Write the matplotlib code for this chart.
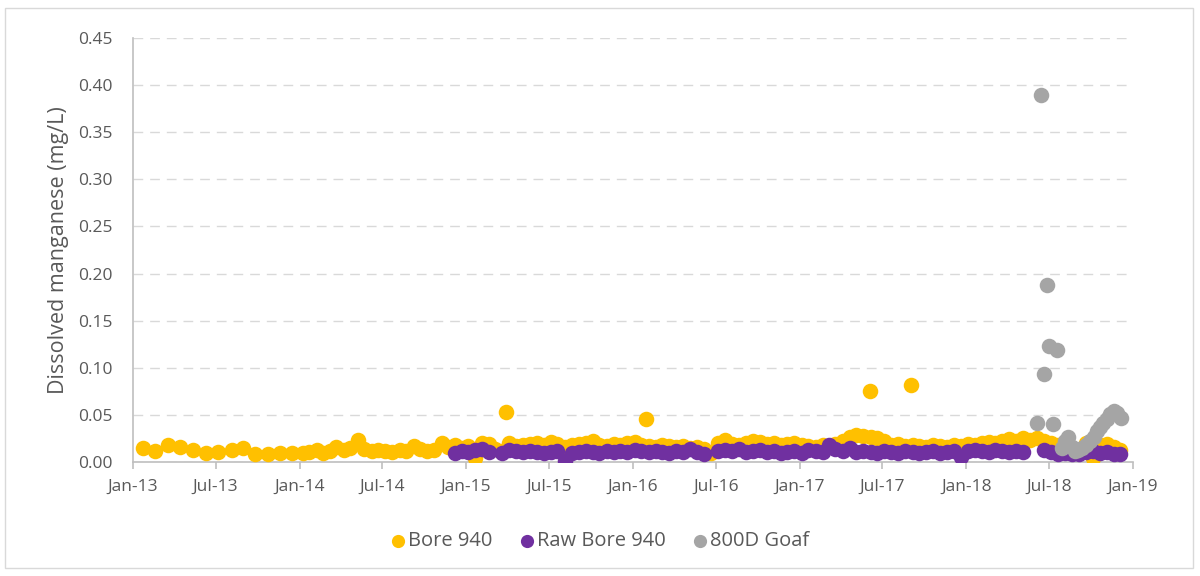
import numpy as np
import pandas as pd
import matplotlib
matplotlib.use("Agg")
import matplotlib.pyplot as plt
import matplotlib.dates as mdates
from matplotlib.patches import Rectangle

plt.rcParams['font.family'] = ['Open Sans', 'DejaVu Sans']

# ---------------- data ----------------
# Bore 940: early sampling (2013-2014)
bore_early_dates = [
    "2013-01-23", "2013-02-18", "2013-03-18", "2013-04-14", "2013-05-12", "2013-06-10",
    "2013-07-06", "2013-08-06", "2013-08-30", "2013-09-25", "2013-10-24", "2013-11-19",
    "2013-12-15",
    "2014-01-08", "2014-01-22", "2014-02-08", "2014-02-22", "2014-03-08", "2014-03-22",
    "2014-04-08", "2014-04-22", "2014-05-08", "2014-05-22", "2014-06-08", "2014-06-22",
    "2014-07-08", "2014-07-22", "2014-08-08", "2014-08-22", "2014-09-08", "2014-09-22",
    "2014-10-08", "2014-10-22", "2014-11-08", "2014-11-22",
]
bore_early_values = [
    0.015, 0.012, 0.018, 0.016, 0.013, 0.010, 0.011, 0.013, 0.015, 0.009, 0.008, 0.010,
    0.010,
    0.010, 0.011, 0.013, 0.010, 0.012, 0.016, 0.013, 0.015, 0.023, 0.014, 0.012, 0.013,
    0.012, 0.011, 0.013, 0.012, 0.017, 0.014, 0.012, 0.013, 0.020, 0.016,
]

# Common sampling dates from Dec-2014 (Bore 940 and Raw Bore 940)
dense_dates = [
    "2014-12-08", "2014-12-22",
    "2015-01-05", "2015-01-20", "2015-02-05", "2015-02-20", "2015-03-05", "2015-03-20",
    "2015-04-05", "2015-04-20", "2015-05-05", "2015-05-20", "2015-06-05", "2015-06-20",
    "2015-07-05", "2015-07-20", "2015-08-05", "2015-08-20", "2015-09-05", "2015-09-20",
    "2015-10-05", "2015-10-20", "2015-11-05", "2015-11-20", "2015-12-05", "2015-12-20",
    "2016-01-05", "2016-01-20", "2016-02-05", "2016-02-20", "2016-03-05", "2016-03-20",
    "2016-04-05", "2016-04-20", "2016-05-05", "2016-05-20", "2016-06-05", "2016-06-20",
    "2016-07-05", "2016-07-20", "2016-08-05", "2016-08-20", "2016-09-05", "2016-09-20",
    "2016-10-05", "2016-10-20", "2016-11-05", "2016-11-20", "2016-12-05", "2016-12-20",
    "2017-01-05", "2017-01-20", "2017-02-05", "2017-02-20", "2017-03-05", "2017-03-20",
    "2017-04-05", "2017-04-20", "2017-05-05", "2017-05-20", "2017-06-05", "2017-06-20",
    "2017-07-05", "2017-07-20", "2017-08-05", "2017-08-20", "2017-09-05", "2017-09-20",
    "2017-10-05", "2017-10-20", "2017-11-05", "2017-11-20", "2017-12-05", "2017-12-20",
    "2018-01-05", "2018-01-20", "2018-02-05", "2018-02-20", "2018-03-05", "2018-03-20",
    "2018-04-05", "2018-04-20", "2018-05-05", "2018-05-20", "2018-06-05", "2018-06-20",
    "2018-07-05", "2018-07-20", "2018-08-05", "2018-08-20", "2018-09-05", "2018-09-20",
    "2018-10-05", "2018-10-20", "2018-11-05", "2018-11-20", "2018-12-03",
]
bore_dense_values = [
    0.018, 0.015,
    0.017, 0.004, 0.020, 0.019, 0.014, 0.012, 0.020, 0.017, 0.018, 0.019, 0.020, 0.018,
    0.021, 0.019, 0.016, 0.018, 0.019, 0.020, 0.022, 0.018, 0.017, 0.019, 0.018, 0.020,
    0.021, 0.018, 0.017, 0.016, 0.018, 0.017, 0.016, 0.017, 0.015, 0.016, 0.014, 0.010,
    0.020, 0.023, 0.019, 0.018, 0.020, 0.022, 0.021, 0.019, 0.020, 0.018, 0.019, 0.020,
    0.018, 0.017, 0.016, 0.018, 0.017, 0.019, 0.022, 0.027, 0.029, 0.028, 0.027, 0.025,
    0.022, 0.018, 0.019, 0.017, 0.018, 0.017, 0.016, 0.018, 0.017, 0.016, 0.018, 0.017,
    0.019, 0.018, 0.020, 0.021, 0.020, 0.022, 0.024, 0.022, 0.026, 0.023, 0.025, 0.022,
    0.020, 0.018, 0.016, 0.014, 0.012, 0.020, 0.004, 0.018, 0.019, 0.016, 0.013,
]
raw_values = [
    0.010, 0.012,
    0.011, 0.013, 0.014, 0.011, np.nan, 0.010, 0.013, 0.012, 0.011, 0.012, 0.011, 0.010,
    0.011, 0.012, 0.001, 0.010, 0.011, 0.012, 0.011, 0.010, 0.012, 0.011, 0.012, 0.011,
    0.013, 0.012, 0.011, 0.012, 0.011, 0.010, 0.012, 0.011, 0.014, 0.011, 0.008, np.nan,
    0.012, 0.013, 0.012, 0.014, 0.011, 0.012, 0.013, 0.011, 0.012, 0.010, 0.011, 0.012,
    0.010, 0.013, 0.012, 0.011, 0.018, 0.014, 0.012, 0.015, 0.011, 0.012, 0.011, 0.010,
    0.012, 0.011, 0.010, 0.012, 0.011, 0.010, 0.011, 0.012, 0.010, 0.011, 0.012, 0.005,
    0.012, 0.013, 0.012, 0.011, 0.013, 0.012, 0.011, 0.012, 0.011, np.nan, np.nan, 0.013,
    0.011, 0.009, 0.010, 0.008, 0.009, 0.011, 0.012, 0.010, 0.011, 0.009, 0.008,
]

# Bore 940 isolated high results
bore_peak_dates = ["2015-03-29", "2016-01-30", "2017-06-03", "2017-09-01"]
bore_peak_values = [0.053, 0.046, 0.075, 0.082]

# 800D Goaf
goaf_dates = [
    "2018-06-04", "2018-06-13", "2018-06-19", "2018-06-26", "2018-07-02", "2018-07-10",
    "2018-07-18", "2018-07-30", "2018-08-06", "2018-08-12", "2018-08-20", "2018-08-27",
    "2018-09-03", "2018-09-12", "2018-09-20", "2018-09-29", "2018-10-07", "2018-10-14",
    "2018-10-21", "2018-10-28", "2018-11-05", "2018-11-12", "2018-11-20", "2018-11-28",
    "2018-12-06",
]
goaf_values = [
    0.041, 0.390, 0.093, 0.188, 0.123, 0.040, 0.119, 0.015, 0.022, 0.027, 0.016, 0.012,
    0.013, 0.015, 0.018, 0.022, 0.027, 0.033, 0.037, 0.041, 0.046, 0.051, 0.054, 0.052,
    0.047,
]

series_names = ["Bore 940", "Raw Bore 940", "800D Goaf"]
series_colors = ["#FFC000", "#7030A0", "#A5A5A5"]

# ---------------- figure ----------------
fig = plt.figure(figsize=(12, 5.76), dpi=100)
fig.patches.append(Rectangle((5 / 1200, 8 / 576), 1188 / 1200, 560 / 576,
                             transform=fig.transFigure, fill=False,
                             edgecolor="#D9D9D9", linewidth=1.0))
ax = fig.add_axes([133 / 1200, 1 - 462 / 576, 1000 / 1200, (462 - 38) / 576])

bore_x = pd.to_datetime(bore_early_dates + dense_dates + bore_peak_dates)
bore_y = bore_early_values + bore_dense_values + bore_peak_values
raw_x = pd.to_datetime(dense_dates)
goaf_x = pd.to_datetime(goaf_dates)

ms = 125
ax.scatter(bore_x, bore_y, s=ms, color=series_colors[0], linewidths=0, zorder=3,
           label=series_names[0])
ax.scatter(raw_x, raw_values, s=ms, color=series_colors[1], linewidths=0, zorder=4,
           label=series_names[1])
ax.scatter(goaf_x, goaf_values, s=ms, color=series_colors[2], linewidths=0, zorder=5,
           label=series_names[2])

ax.set_xlim(pd.Timestamp("2013-01-01"), pd.Timestamp("2019-01-01"))
ax.set_ylim(0, 0.45)
ax.set_yticks(np.arange(0, 0.451, 0.05))
ax.yaxis.set_major_formatter(matplotlib.ticker.FormatStrFormatter("%.2f"))
ax.xaxis.set_major_locator(mdates.MonthLocator(bymonth=[1, 7]))
ax.xaxis.set_major_formatter(mdates.DateFormatter("%b-%y"))

ax.grid(axis="y", color="#D9D9D9", linewidth=1.0, linestyle=(0, (7, 5)), zorder=0)
ax.set_axisbelow(True)
for s in ["top", "right"]:
    ax.spines[s].set_visible(False)
ax.spines["left"].set_color("#BFBFBF")
ax.spines["bottom"].set_color("#BFBFBF")
ax.spines["left"].set_linewidth(1.2)
ax.spines["bottom"].set_linewidth(1.2)

ax.tick_params(axis="y", length=0, pad=15, labelsize=12.5, labelcolor="#595959")
ax.tick_params(axis="x", length=5, width=1.2, color="#BFBFBF", pad=7,
               labelsize=12.5, labelcolor="#595959")

ax.set_ylabel("Dissolved manganese (mg/L)", fontsize=15.5, color="#595959", labelpad=6)

leg = fig.legend(loc="center", bbox_to_anchor=(0.5, 1 - 541 / 576), ncol=3,
                 frameon=False, fontsize=14.5, handlelength=0.7, handletextpad=0.15,
                 columnspacing=1.35, markerscale=0.85, scatterpoints=1)
for t in leg.get_texts():
    t.set_color("#595959")

fig.savefig("out.png", dpi=100)
